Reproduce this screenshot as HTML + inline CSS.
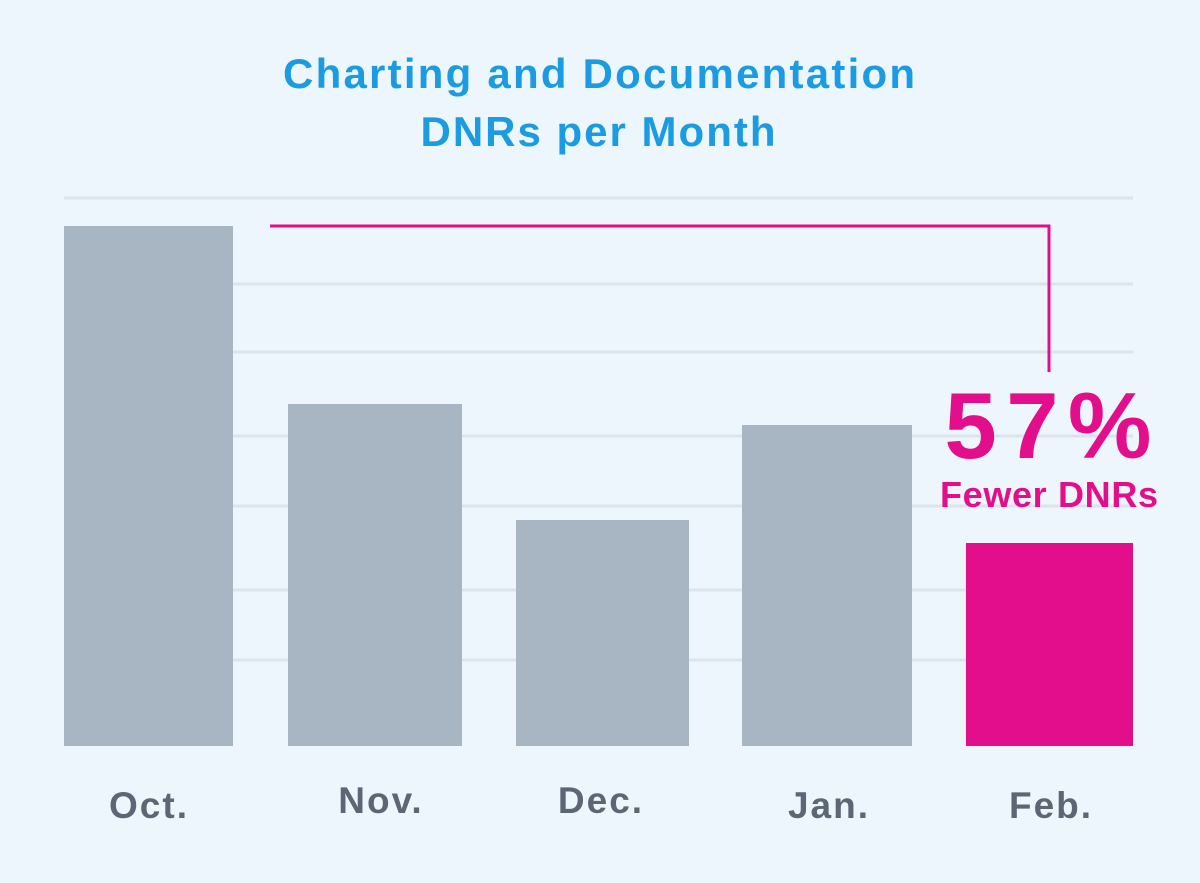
<!DOCTYPE html>
<html><head><meta charset="utf-8"><style>
html,body{margin:0;padding:0;background:#eef6fd;}
svg{display:block}
text{font-family:"Liberation Sans",sans-serif;font-weight:bold}
</style></head><body>
<svg width="1200" height="883" viewBox="0 0 1200 883">
<rect width="1200" height="883" fill="#eef6fd"/>
<text x="599" y="88" font-size="42" fill="#1a9be2" text-anchor="middle" textLength="632" lengthAdjust="spacing">Charting and Documentation</text>
<text x="598" y="146" font-size="42" fill="#1a9be2" text-anchor="middle" textLength="355" lengthAdjust="spacing">DNRs per Month</text>
<g stroke="#dde3ec" stroke-width="3">
<line x1="64" x2="1133" y1="198" y2="198"/>
<line x1="64" x2="1133" y1="284" y2="284"/>
<line x1="64" x2="1133" y1="352" y2="352"/>
<line x1="64" x2="1133" y1="436" y2="436"/>
<line x1="64" x2="1133" y1="506" y2="506"/>
<line x1="64" x2="1133" y1="590" y2="590"/>
<line x1="64" x2="1133" y1="660" y2="660"/>
</g>
<g fill="#a8b6c4">
<rect x="64" y="226" width="169" height="520"/>
<rect x="288" y="404" width="174" height="342"/>
<rect x="516" y="520" width="173" height="226"/>
<rect x="742" y="425" width="170" height="321"/>
</g>
<rect x="966" y="543" width="167" height="203" fill="#e20e8c"/>
<polyline points="270,226 1049,226 1049,372" fill="none" stroke="#e20e8c" stroke-width="3"/>
<text x="1048" y="458" font-size="94" fill="#e20e8c" text-anchor="middle" textLength="207" lengthAdjust="spacing">57%</text>
<text x="1049" y="507" font-size="36" fill="#e20e8c" text-anchor="middle" textLength="218" lengthAdjust="spacing">Fewer DNRs</text>
<g font-size="37" fill="#5c6675" text-anchor="middle" letter-spacing="2">
<text x="149" y="818">Oct.</text>
<text x="381" y="813">Nov.</text>
<text x="601" y="813">Dec.</text>
<text x="829" y="818">Jan.</text>
<text x="1051" y="818">Feb.</text>
</g>
</svg>
</body></html>
